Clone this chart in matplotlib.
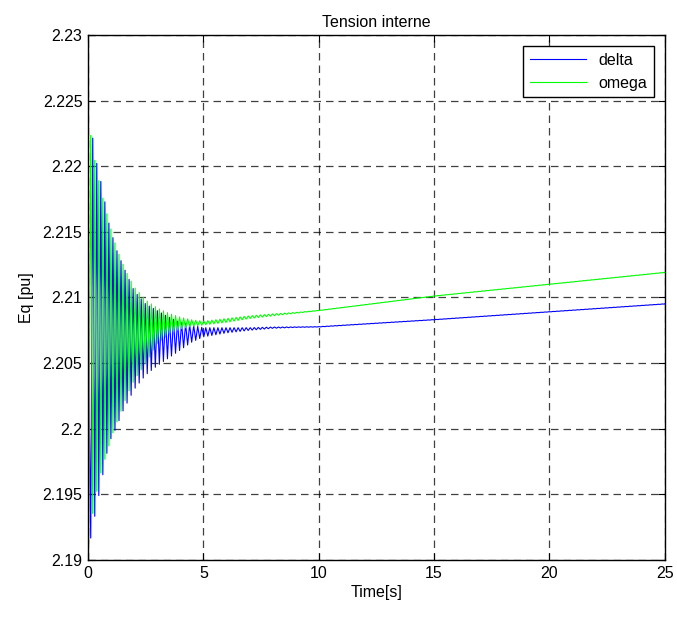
import numpy as np
import matplotlib
matplotlib.use("Agg")
import matplotlib.pyplot as plt

plt.rcParams['font.family'] = ['Liberation Sans Narrow', 'Liberation Sans', 'DejaVu Sans']

# envelope of the oscillation (time [s], upper, lower)
delta_t = [0.0, 0.2, 0.4, 0.6, 0.9, 1.2, 1.5, 2.0, 2.5, 3.0, 3.5, 4.0, 4.5, 5.0, 6.0, 7.0, 8.0, 9.0, 10.0, 15.0, 20.0, 25.0]
delta_hi = [2.2020, 2.2222, 2.2200, 2.2185, 2.2157, 2.2138, 2.2125, 2.2105, 2.2095, 2.2090, 2.2085, 2.2081, 2.2079,
            2.2077, 2.2077, 2.2077, 2.20775, 2.20776, 2.20778, 2.20832, 2.20892, 2.20952]
delta_lo = [2.1905, 2.1925, 2.1943, 2.1961, 2.1989, 2.2000, 2.2013, 2.2030, 2.2041, 2.2048, 2.2054, 2.2060, 2.2066,
            2.2070, 2.2073, 2.2075, 2.20765, 2.20772, 2.20775, 2.2083, 2.2089, 2.2095]

omega_t = [0.0, 0.15, 0.35, 0.55, 0.8, 1.1, 1.4, 1.7, 2.0, 2.5, 3.0, 3.5, 4.0, 4.5, 5.0, 6.0, 7.0, 8.0, 9.0, 10.0, 15.0, 20.0, 25.0]
omega_hi = [2.2243, 2.2218, 2.2199, 2.2182, 2.2165, 2.2145, 2.2130, 2.2118, 2.2108, 2.2098, 2.2092, 2.2088, 2.2085,
            2.2083, 2.2082, 2.2084, 2.2086, 2.20875, 2.20886, 2.20902, 2.21012, 2.21102, 2.21192]
omega_lo = [2.1908, 2.1930, 2.1950, 2.1966, 2.1981, 2.1998, 2.2012, 2.2026, 2.2037, 2.2050, 2.2065, 2.2072, 2.2076,
            2.2078, 2.2079, 2.2081, 2.2084, 2.2086, 2.20880, 2.2090, 2.2101, 2.2110, 2.2119]

period = 0.175  # oscillation period read from the peak spacing
xticks = [0, 5, 10, 15, 20, 25]
yticks = [2.19, 2.195, 2.2, 2.205, 2.21, 2.215, 2.22, 2.225, 2.23]
ytick_labels = ['2.19', '2.195', '2.2', '2.205', '2.21', '2.215', '2.22', '2.225', '2.23']


def zigzag(t, hi, lo, start_high, shift):
    # successive extrema alternate between the upper and lower envelope
    te = np.arange(shift, 25.0, period / 2)
    te = np.append(np.insert(te, 0, 0.0), 25.0)
    up = np.interp(te, t, hi)
    dn = np.interp(te, t, lo)
    k = np.arange(len(te))
    high = (k % 2 == 0) if start_high else (k % 2 == 1)
    return te, np.where(high, up, dn)


fig = plt.figure(figsize=(6.77, 6.19), dpi=100)
ax = fig.add_axes([0.130, 0.0953, 0.852, 0.8482])

td, yd = zigzag(delta_t, delta_hi, delta_lo, False, 0.03)
to, yo = zigzag(omega_t, omega_hi, omega_lo, True, 0.03)
ax.plot(td, yd, color='#0000ff', lw=0.8, label='delta')
ax.plot(to, yo, color='#00ff00', lw=0.8, label='omega')

ax.set_xlim(0, 25)
ax.set_ylim(2.19, 2.23)
ax.set_xticks(xticks)
ax.set_yticks(yticks)
ax.set_yticklabels(ytick_labels)
ax.tick_params(direction='in', length=5, top=True, right=True, labelsize=11.5, pad=4)
for s in ax.spines.values():
    s.set_linewidth(1.0)
ax.grid(True, color='black', linestyle=(0, (6, 4)), linewidth=0.9, alpha=0.75)

ax.set_title('Tension interne', fontsize=11.5, pad=6)
ax.set_xlabel('Time[s]', fontsize=11.5, labelpad=3)
ax.set_ylabel('Eq [pu]', fontsize=11.5, labelpad=6)

leg = ax.legend(loc='upper right', fontsize=11.5, fancybox=False, framealpha=1, edgecolor='black',
                borderaxespad=0.7, handlelength=3.5)
leg.get_frame().set_linewidth(1.0)
for ln in leg.get_lines():
    ln.set_linewidth(0.8)

fig.savefig('out.png', dpi=100)
